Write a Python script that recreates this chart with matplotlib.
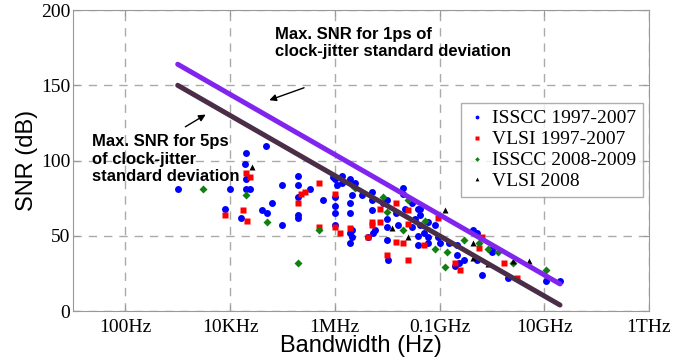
import matplotlib

matplotlib.use("Agg")
import matplotlib.pyplot as plt

# ---- data (bandwidth in Hz, SNR in dB) ----
isscc_old_bw = [4.8e4, 2.0e4, 1.9e4, 2.0e4, 1.0e3, 1.0e4, 2.0e4, 2.4e4, 8.0e3, 1.6e4,
                4.1e4, 5.0e4, 6.3e4, 1.0e5, 1.0e5, 2.0e5, 2.0e5, 3.3e5, 2.0e5, 2.0e5,
                2.0e5, 5.9e5, 9.1e5, 1.0e6, 1.1e6, 1.35e6, 1.0e6, 1.0e6, 1.0e6, 1.0e6,
                1.35e6, 1.95e6, 2.4e6, 2.2e6, 2.1e6, 1.95e6, 1.95e6, 3.3e6, 5.1e6, 5.1e6,
                5.1e6, 8.3e6, 1.0e7, 1.45e7, 1.0e7, 5.8e6, 5.3e6, 4.3e6, 1.0e7, 1.0e7,
                2.0e7, 2.0e7, 2.2e7, 1.6e7, 1.05e7, 1.95e6, 1.95e6, 2.1e6, 2.1e6, 3.0e7,
                3.8e7, 4.2e7, 3.0e7, 3.4e7, 4.2e7, 4.2e7, 5.9e7, 8.1e7, 3.8e7, 5.0e7,
                5.9e7, 3.8e7, 5.9e7, 9.3e7, 1.0e8, 1.5e8, 2.2e8, 2.2e8, 2.9e8, 2.4e8,
                4.3e8, 5.1e8, 1.0e9, 1.0e9, 2.0e8, 5.1e8, 6.6e8, 2.0e9, 1.1e10, 2.0e10]
isscc_old_snr = [110, 105, 98, 88, 81, 81, 81, 81, 68, 62,
                 67, 65, 72, 57, 84, 84, 90, 81, 76, 64,
                 62, 74, 89, 88, 84, 85, 76, 70, 65, 57,
                 90, 88, 85, 84, 77, 72, 65, 77, 79, 74,
                 67, 72, 74, 65, 61, 54, 52, 49, 56, 47,
                 82, 78, 68, 57, 34, 52, 45, 54, 49, 72,
                 68, 68, 56, 61, 64, 57, 59, 57, 50, 52,
                 49, 44, 45, 49, 45, 45, 44, 37, 34, 32,
                 54, 52, 41, 39, 30, 34, 24, 22, 20, 20]

vlsi_old_bw = [2.0e4, 2.4e4, 8.0e3, 1.8e4, 2.1e4, 5.0e5, 2.7e5, 2.3e5, 2.0e5, 5.0e5,
               1.0e6, 1.0e6, 1.25e6, 1.95e6, 7.2e6, 1.45e7, 5.1e6, 5.1e6, 7.2e6, 4.3e6,
               1.45e7, 2.0e7, 1.0e7, 2.5e7, 2.5e7, 2.5e7, 5.0e7, 9.3e7, 1.95e8, 6.6e8,
               5.6e8, 2.5e8, 1.7e9, 3.0e9]
vlsi_old_snr = [92, 89, 64, 67, 60, 85, 79, 78, 72, 56,
                78, 56, 52, 55, 68, 72, 59, 57, 59, 49,
                46, 45, 37, 34, 67, 58, 44, 62, 32, 49,
                42, 27, 32, 22]

isscc_new_bw = [3.0e3, 2.0e4, 5.0e4, 5.0e5, 2.0e5, 2.4e6, 8.3e6, 1.0e7, 2.0e7, 2.5e7,
                5.2e7, 8.1e7, 1.4e8, 3.0e8, 1.26e8, 5.6e8, 8.3e8, 1.3e9, 2.5e9, 1.1e10]
isscc_new_snr = [81, 77, 59, 54, 32, 82, 76, 66, 54, 74,
                 60, 41, 39, 47, 29, 45, 41, 39, 32, 27]

vlsi_new_bw = [2.6e4, 1.25e7, 2.5e7, 1.26e8, 4.3e8, 4.3e8, 8.3e8, 2.5e9, 5.2e9]
vlsi_new_snr = [96, 55, 49, 67, 45, 35, 31, 33, 33]

# jitter-limited SNR bounds, end points
bound_bw = [1e3, 2e10]
bound_1ps = [164, 18]
bound_5ps = [150, 4]

x_ticks = [1e2, 1e4, 1e6, 1e8, 1e10, 1e12]
x_ticklabels = ["100Hz", "10KHz", "1MHz", "0.1GHz", "10GHz", "1THz"]
y_ticks = [0, 50, 100, 150, 200]

SERIF = "Liberation Serif"
SANS = "Liberation Sans"

fig = plt.figure(figsize=(6.86, 3.6), dpi=100)
ax = fig.add_axes([0.1064, 0.136, 0.8396, 0.836])

ax.plot(isscc_old_bw, isscc_old_snr, "o", color="#0000ff", ms=5, mec="none",
        label="ISSCC 1997-2007", zorder=3)
ax.plot(vlsi_old_bw, vlsi_old_snr, "s", color="#ff0000", ms=4.3, mec="none",
        label="VLSI 1997-2007", zorder=3)
ax.plot(isscc_new_bw, isscc_new_snr, "D", color="#118011", ms=4.3, mec="none",
        label="ISSCC 2008-2009", zorder=3)
ax.plot(vlsi_new_bw, vlsi_new_snr, "^", color="black", ms=5, mec="none",
        label="VLSI 2008", zorder=3)

ax.plot(bound_bw, bound_1ps, color="#8024ee", lw=3.6, solid_capstyle="round", zorder=4)
ax.plot(bound_bw, bound_5ps, color="#4a2d47", lw=3.6, solid_capstyle="round", zorder=4)

ax.set_xscale("log")
ax.set_xlim(10, 1e12)
ax.set_ylim(0, 200)
ax.set_xticks(x_ticks)
ax.set_xticklabels(x_ticklabels)
ax.set_yticks(y_ticks)
ax.minorticks_off()
ax.tick_params(direction="in", length=4, color="#999999", top=True, right=True,
               labelsize=14)
ax.tick_params(axis="y", pad=2)
ax.tick_params(axis="x", pad=6)
for lab in ax.get_xticklabels() + ax.get_yticklabels():
    lab.set_fontfamily(SERIF)
for sp in ax.spines.values():
    sp.set_color("#999999")
ax.grid(True, color="#aaaaaa", linestyle=(0, (6, 5)), linewidth=1.0)
ax.set_axisbelow(True)

ax.set_xlabel("Bandwidth (Hz)", fontfamily=SANS, fontsize=17, labelpad=-1)
ax.set_ylabel("SNR (dB)", fontfamily=SANS, fontsize=17, labelpad=2)

ax.text(7.1e4, 178, "Max. SNR for 1ps of\nclock-jitter standard deviation",
        fontfamily=SANS, fontweight="bold", fontsize=12, va="center",
        linespacing=1.2)
ax.annotate("", xy=(5.0e4, 139.5), xytext=(2.9e5, 149),
            arrowprops=dict(arrowstyle="-|>", color="black", lw=1,
                            mutation_scale=10))
ax.text(23, 101, "Max. SNR for 5ps\nof clock-jitter\nstandard deviation",
        fontfamily=SANS, fontweight="bold", fontsize=12, va="center",
        linespacing=1.2)
ax.annotate("", xy=(3.8e3, 131.5), xytext=(1.26e3, 121.5),
            arrowprops=dict(arrowstyle="-|>", color="black", lw=1,
                            mutation_scale=10))

leg = ax.legend(loc="upper left", bbox_to_anchor=(0.674, 0.691), frameon=True,
                fancybox=False, edgecolor="#999999", markerscale=0.55,
                prop={"family": SERIF, "size": 14}, handlelength=0.9,
                handletextpad=0.35, borderpad=0.35, labelspacing=0.17,
                borderaxespad=0)
leg.get_frame().set_linewidth(1.0)

fig.savefig("out.png", dpi=100)
